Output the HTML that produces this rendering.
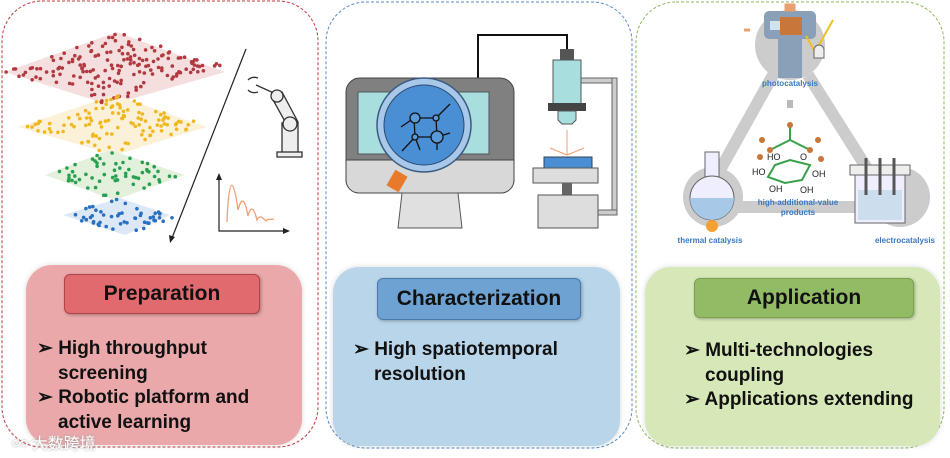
<!DOCTYPE html>
<html><head><meta charset="utf-8"><style>
body{margin:0;width:950px;height:458px;background:#fff;overflow:hidden;position:relative;font-family:"Liberation Sans",Arial,sans-serif}
.box{position:absolute;border-radius:26px;box-shadow:0 0 6px rgba(0,0,0,0.15)}
.tt{position:absolute;border-radius:6px;font-weight:bold;font-size:21px;text-align:center;color:#111;box-shadow:1px 1px 3px rgba(0,0,0,.3)}
.tx{position:absolute;font-weight:bold;font-size:19px;line-height:24.5px;color:#111}
.tx div{padding-left:21px;text-indent:-21px}
</style></head><body>
<svg width="950" height="458" style="position:absolute;left:0;top:0">
<rect x="2" y="1" width="316" height="446" rx="40" fill="none" stroke="#c0393b" stroke-dasharray="3,2" stroke-width="1"/>
<rect x="326" y="2" width="306" height="446" rx="40" fill="none" stroke="#5a8ac4" stroke-dasharray="3,2" stroke-width="1"/>
<rect x="636" y="2" width="308" height="446" rx="40" fill="none" stroke="#8ab85a" stroke-dasharray="3,2" stroke-width="1"/>
<g id="layers">
<polygon points="5,72 117,32 225,72 110,105" fill="#f5dede"/>
<polygon points="18,127 115,95 207,127 115,155" fill="#fbf1d8"/>
<polygon points="45,175 110,150 185,175 115,200" fill="#e2f0dc"/>
<polygon points="63,215 120,198 170,215 125,235" fill="#dce8f5"/>
</g>
<g id="dots"></g>
<line x1="246" y1="49" x2="172" y2="238" stroke="#222" stroke-width="1.2"/>
<polygon points="170,243 169,235 175,237" fill="#222"/>
<!-- robot -->
<g stroke="#333" stroke-width="1.3" fill="#eee">
<path d="M248,80 q4,-4 10,-2 M248,90 q4,4 10,2" fill="none"/>
<line x1="256" y1="85" x2="276" y2="94"/>
<polygon points="272,98 282,92 298,122 288,127" />
<circle cx="277" cy="96" r="6"/>
<rect x="282" y="123" width="16" height="30"/>
<circle cx="290" cy="124" r="7"/>
<rect x="277" y="152" width="25" height="5"/>
</g>
<g stroke="#222" fill="none" stroke-width="1.2">
<path d="M219,176 V231 H287"/>
</g>
<polygon points="219,173 216,180 222,180" fill="#222"/><polygon points="290,231 283,228 283,234" fill="#222"/>
<path d="M227,222 C229,170 234,180 238,210 C242,195 245,200 248,216 C251,205 254,208 257,220 C260,214 263,218 266,221 C268,218 270,220 274,219" fill="none" stroke="#f0a070" stroke-width="1.3"/>
<!-- panel2 -->
<path d="M478,78 V35 H567 V50" fill="none" stroke="#111" stroke-width="2"/>
<rect x="346" y="78" width="168" height="115" rx="14" fill="#808080" stroke="#444"/>
<path d="M346,160 H514 V180 a13,13 0 0 1 -13,13 H359 a13,13 0 0 1 -13,-13Z" fill="#d8d8d8" stroke="#444"/>
<rect x="358" y="92" width="131" height="62" fill="#a8dede" stroke="#555"/>
<polygon points="402,193 458,193 462,228 398,228" fill="#e0e0e0" stroke="#555"/>
<rect x="390" y="172" width="14" height="18" fill="#e87a2a" transform="rotate(30 397 181)"/>
<circle cx="424" cy="125" r="47" fill="#a8c8ea" stroke="#3a5a80" stroke-width="1.5"/>
<circle cx="424" cy="125" r="40" fill="#4a8ed4" stroke="#2a4a70"/>
<g stroke="#111" stroke-width="1.3" fill="#5a9ad8"><path d="M414,118 L436,118 L437,137 L415,137Z M414,118 L401,127 M437,137 L450,133 M436,118 L450,104 M415,137 L402,151 M415,137 L420,150 M437,137 L437,150" fill="none"/>
<circle cx="415" cy="118" r="5"/><circle cx="436" cy="118" r="3"/><circle cx="437" cy="137" r="6"/><circle cx="415" cy="137" r="3"/></g>
<rect x="580" y="78" width="37" height="5" fill="#ccc" stroke="#666"/><rect x="612" y="78" width="5" height="137" fill="#ccc" stroke="#666"/><rect x="590" y="210" width="27" height="5" fill="#ccc" stroke="#666"/>
<rect x="560" y="49" width="14" height="11" fill="#555"/>
<rect x="553" y="60" width="28" height="45" fill="#a8dede" stroke="#555"/>
<rect x="548" y="103" width="38" height="8" fill="#444"/>
<path d="M558,111 H576 V120 l-4,4 H562 l-4,-4Z" fill="#a8dede" stroke="#555"/>
<path d="M567,130 V155 M567,155 L550,148 M567,155 L584,148" stroke="#f0a070"/>
<rect x="544" y="157" width="48" height="11" fill="#4a8ed4" stroke="#345"/>
<rect x="533" y="168" width="65" height="15" fill="#ddd" stroke="#555"/>
<rect x="562" y="183" width="10" height="12" fill="#666"/>
<rect x="538" y="195" width="60" height="33" fill="#ddd" stroke="#555"/>
<!-- panel3 -->
<g stroke="#ccc" stroke-width="12" fill="none"><path d="M773,75 L720,170 M808,75 L868,170 M730,207 H880"/></g>
<circle cx="790" cy="45" r="35" fill="#ccc"/>
<rect x="764" y="11" width="52" height="28" rx="5" fill="#8aa0b8"/>
<rect x="778" y="11" width="24" height="67" fill="#8aa0b8"/>
<rect x="770" y="21" width="12" height="9" fill="#d0e4f0"/>
<rect x="780" y="17" width="22" height="18" fill="#c8763a"/>
<path d="M786,5 h8 v5 h-8Z M744,30 h6" fill="#e8a070" stroke="#e8a070" stroke-width="3"/>
<path d="M815,52 L833,20 M815,52 L806,36" stroke="#f0c020" stroke-width="2"/>
<path d="M814,50 a5,5 0 0 1 10,0 v8 h-10Z" fill="#eee" stroke="#666"/>
<text x="790" y="86" font-size="8" font-weight="bold" fill="#3a78c0" text-anchor="middle">photocatalysis</text>
<path d="M790,100 v8" stroke="#bbb" stroke-width="6"/>
<g stroke="#3aa04a" stroke-width="2" fill="none"><polygon points="775,165 790,160 810,165 802,180 785,183 768,177"/><path d="M770,150 L790,140 L810,150 M790,140 V125"/></g>
<g fill="#c8763a"><circle cx="790" cy="125" r="3"/><circle cx="770" cy="150" r="3"/><circle cx="810" cy="150" r="3"/><circle cx="762" cy="140" r="3"/><circle cx="818" cy="140" r="3"/><circle cx="760" cy="157" r="3"/><circle cx="821" cy="159" r="3"/></g>
<g font-size="9" fill="#222"><text x="767" y="160">HO</text><text x="800" y="160">O</text><text x="752" y="175">HO</text><text x="812" y="177">OH</text><text x="769" y="192">OH</text><text x="800" y="193">OH</text></g>
<text x="798" y="205" font-size="8" font-weight="bold" fill="#3a78c0" text-anchor="middle">high-additional-value</text>
<text x="798" y="215" font-size="8" font-weight="bold" fill="#3a78c0" text-anchor="middle">products</text>
<circle cx="713" cy="197" r="30" fill="#ccc"/>
<rect x="705" y="152" width="14" height="25" fill="#eef" stroke="#666"/>
<circle cx="712" cy="198" r="22" fill="#eef" stroke="#666"/>
<path d="M690,198 a22,22 0 0 0 44,0Z" fill="#a8c8e8"/>
<circle cx="712" cy="226" r="6" fill="#f6a030"/>
<text x="710" y="243" font-size="8" font-weight="bold" fill="#3a78c0" text-anchor="middle">thermal catalysis</text>
<circle cx="900" cy="197" r="30" fill="#ccc"/>
<rect x="850" y="165" width="60" height="10" fill="#eee" stroke="#666"/>
<rect x="855" y="175" width="50" height="48" fill="#eef" stroke="#666"/>
<rect x="858" y="190" width="44" height="30" fill="#cde"/>
<g stroke="#555" stroke-width="3"><path d="M866,158 V195 M880,158 V195 M894,158 V195"/></g>
<text x="905" y="243" font-size="8" font-weight="bold" fill="#3a78c0" text-anchor="middle">electrocatalysis</text>
</svg>
<div class="box" style="left:26px;top:265px;width:276px;height:180px;background:#eaa8aa"></div>
<div class="box" style="left:333px;top:267px;width:287px;height:179px;background:#b9d5ea"></div>
<div class="box" style="left:645px;top:267px;width:295px;height:179px;background:#d7e8b8"></div>
<div class="tt" style="left:64px;top:274px;width:194px;height:38px;line-height:38px;background:#e06a6e;border:1px solid #b04448">Preparation</div>
<div class="tt" style="left:377px;top:278px;width:202px;height:40px;line-height:40px;background:#6ea2d2;border:1px solid #4a7aaa">Characterization</div>
<div class="tt" style="left:694px;top:278px;width:218px;height:38px;line-height:38px;background:#92bb66;border:1px solid #7aa050">Application</div>
<div class="tx" style="left:37px;top:337px;width:240px"><div>➢ High throughput screening</div><div>➢ Robotic platform and active learning</div></div>
<div class="tx" style="left:353px;top:338px;width:250px"><div>➢ High spatiotemporal resolution</div></div>
<div class="tx" style="left:684px;top:339px;width:260px"><div>➢ Multi-technologies coupling</div><div>➢ Applications extending</div></div>
<div style="position:absolute;left:12px;top:430px;font-family:'Noto Sans CJK SC',sans-serif;font-size:16px;color:#fff;text-shadow:0 0 2px #999">∞ 大数跨境</div>
<script>
(function(){var g=document.getElementById('dots');var s=7;function r(){s=(s*16807)%2147483647;return s/2147483647;}
var L=[[[5,72],[117,32],[225,72],[110,105],'#b03a40',170],[[18,127],[115,95],[207,127],[115,155],'#f0b820',110],[[45,175],[110,150],[185,175],[115,200],'#28a050',60],[[63,215],[120,198],[170,215],[125,235],'#2a70c0',50]];
var h='';L.forEach(function(l){for(var i=0;i<l[5];i++){var u=r(),v=r();var a=l[0],b=l[1],d=l[3];var x=a[0]+u*(b[0]-a[0])+v*(d[0]-a[0]),y=a[1]+u*(b[1]-a[1])+v*(d[1]-a[1]);h+='<circle cx="'+x.toFixed(1)+'" cy="'+y.toFixed(1)+'" r="1.8" fill="'+l[4]+'"/>';}});g.innerHTML=h;})();
</script>
</body></html>
